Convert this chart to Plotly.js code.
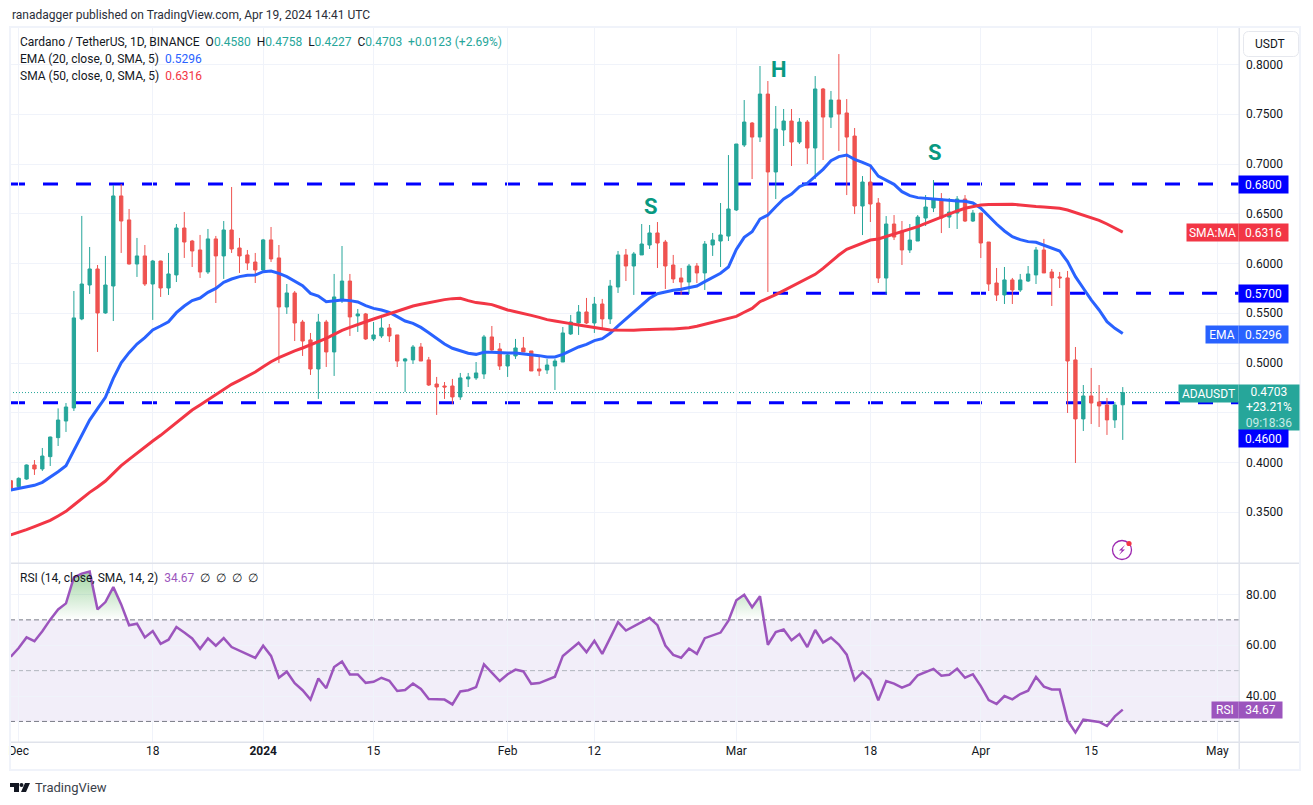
<!DOCTYPE html>
<html>
<head>
<meta charset="utf-8">
<script src="https://cdn.plot.ly/plotly-3.0.1.min.js"></script>
<style>
  html, body { margin: 0; padding: 0; background: #fff; }
  #wrap { position: relative; width: 1313px; height: 805px; overflow: hidden; }
  #plotlyDiv { width: 1313px; height: 805px; }
  svg.overlay { position: absolute; left: 0; top: 0; pointer-events: none; }
</style>
</head>
<body>
<div id="wrap">
  <div id="plotlyDiv"></div>
  <svg class="overlay" width="1313" height="805">
    <path d="M10 783h9v9h-5v-5h-4z M25 783h5l-4 9h-5z" fill="#131722"/>
    <circle cx="21.5" cy="785" r="2" fill="#131722"/>
    <circle cx="1122" cy="550" r="9.5" fill="none" stroke="#9c27b0" stroke-width="1.3"/>
    <path d="M1125 545l-6 5.5h3l-3 4.5 6-5.5h-3z" fill="#9c27b0"/>
    <circle cx="1129" cy="543.5" r="2.6" fill="#f23645"/>
    <rect x="1243.5" y="31.5" width="55" height="25" rx="5" fill="none" stroke="#e6e8ee"/>
  </svg>
</div>
<script>
// candles, one per day from 2023-11-30 to 2024-04-19
const opens = [
  0.3817,0.3757,0.3834,0.3975,0.3935,0.4059,0.4250,0.4417,0.4548,0.5443,0.5784,0.5945,0.5503,0.5774,0.6679,0.6438,0.5995,0.6076,0.5794,0.6025,
  0.5754,0.5885,0.6357,0.6226,0.6136,0.5915,0.6247,0.6076,0.6337,0.6156,0.6086,0.6015,0.5935,0.6237,0.6056,0.5563,0.5704,0.5412,0.5232,0.4940,
  0.5412,0.5111,0.5644,0.5824,0.5473,0.5493,0.5242,0.5272,0.5352,0.5282,0.5020,0.5031,0.5161,0.5031,0.4789,0.4769,0.4769,0.4659,0.4840,0.4850,
  0.4890,0.5262,0.5141,0.4970,0.5071,0.5151,0.5121,0.4940,0.4930,0.4970,0.5010,0.5292,0.5402,0.5513,0.5402,0.5593,0.5443,0.5764,0.6086,0.5975,
  0.6086,0.6186,0.6307,0.6216,0.5985,0.5855,0.5814,0.5975,0.5905,0.6186,0.6226,0.6276,0.6538,0.7191,0.7412,0.7271,0.7703,0.6920,0.7342,0.7432,
  0.7221,0.7422,0.7161,0.7754,0.7472,0.7643,0.7513,0.7281,0.6578,0.6819,0.6608,0.5854,0.6397,0.6327,0.6136,0.6226,0.6457,0.6558,0.6648,0.6467,
  0.6507,0.6648,0.6427,0.6507,0.6216,0.5804,0.5684,0.5835,0.5734,0.5824,0.5885,0.6136,0.5915,0.5865,0.5855,0.5031,0.4438,0.4669,0.4608,0.4578,
  0.4428,0.4580]
const highs = [
  0.3825,0.3851,0.3980,0.4025,0.4146,0.4260,0.4544,0.4598,0.5724,0.6478,0.6166,0.5985,0.6076,0.6789,0.6799,0.6548,0.6257,0.6186,0.6036,0.6028,
  0.6106,0.6397,0.6518,0.6237,0.6287,0.6347,0.6277,0.6427,0.6769,0.6257,0.6136,0.6106,0.6247,0.6367,0.6186,0.5794,0.5724,0.5433,0.5302,0.5493,
  0.5433,0.5895,0.6176,0.5895,0.5543,0.5503,0.5412,0.5483,0.5392,0.5282,0.5051,0.5181,0.5201,0.5061,0.4860,0.4809,0.4840,0.4900,0.4900,0.5010,
  0.5282,0.5372,0.5201,0.5101,0.5242,0.5262,0.5121,0.5061,0.5041,0.5041,0.5362,0.5483,0.5583,0.5654,0.5664,0.5644,0.5835,0.6126,0.6146,0.6116,
  0.6397,0.6387,0.6417,0.6237,0.6086,0.5955,0.5995,0.6005,0.6226,0.6307,0.6608,0.7090,0.7201,0.7643,0.7422,0.7985,0.7834,0.7583,0.7553,0.7553,
  0.7462,0.7442,0.7884,0.7764,0.7734,0.8105,0.7653,0.7362,0.6879,0.6990,0.6658,0.6477,0.6487,0.6427,0.6397,0.6487,0.6688,0.6839,0.6708,0.6658,
  0.6678,0.6688,0.6538,0.6507,0.6216,0.5955,0.5965,0.5855,0.5895,0.5975,0.6166,0.6247,0.5945,0.5915,0.5925,0.5161,0.4779,0.4950,0.4779,0.4649,
  0.4608,0.4758]
const lows = [
  0.3735,0.3747,0.3827,0.3875,0.3915,0.3965,0.4166,0.4307,0.4518,0.5430,0.5694,0.5111,0.5495,0.5422,0.6106,0.5990,0.5865,0.5774,0.5433,0.5664,
  0.5684,0.5814,0.6056,0.5965,0.5855,0.5895,0.5603,0.5845,0.6106,0.5905,0.5935,0.5804,0.5905,0.6015,0.5000,0.5493,0.5221,0.5071,0.4880,0.4639,
  0.4960,0.4870,0.5603,0.5272,0.5312,0.5232,0.5221,0.5252,0.5211,0.4960,0.4709,0.4990,0.5020,0.4769,0.4478,0.4639,0.4588,0.4629,0.4759,0.4830,
  0.4840,0.5111,0.4930,0.4860,0.5041,0.5111,0.4920,0.4870,0.4890,0.4729,0.5010,0.5282,0.5282,0.5392,0.5302,0.5352,0.5392,0.5704,0.5824,0.5684,
  0.6086,0.6146,0.5955,0.5744,0.5804,0.5684,0.5694,0.5804,0.5734,0.6076,0.5965,0.6226,0.6528,0.7171,0.6849,0.7221,0.5714,0.6648,0.7181,0.6980,
  0.7201,0.7000,0.6849,0.7040,0.7362,0.7131,0.6688,0.6497,0.6286,0.6417,0.5804,0.5693,0.6236,0.5985,0.6106,0.6226,0.6377,0.6517,0.6306,0.6357,
  0.6347,0.6417,0.6417,0.6055,0.5724,0.5623,0.5593,0.5593,0.5714,0.5814,0.5794,0.5905,0.5573,0.5754,0.4498,0.3995,0.4317,0.4387,0.4357,0.4277,
  0.4347,0.4227]
const closes = [
  0.3740,0.3841,0.3975,0.3935,0.4065,0.4256,0.4427,0.4558,0.5453,0.5794,0.5945,0.5503,0.5784,0.6679,0.6427,0.5995,0.6076,0.5794,0.6025,0.5754,
  0.5895,0.6357,0.6216,0.6126,0.5915,0.6247,0.6076,0.6337,0.6146,0.6076,0.6005,0.5935,0.6237,0.6046,0.5563,0.5704,0.5402,0.5221,0.4940,0.5412,
  0.5111,0.5664,0.5824,0.5463,0.5493,0.5242,0.5282,0.5352,0.5272,0.5020,0.5041,0.5161,0.5020,0.4779,0.4759,0.4759,0.4659,0.4850,0.4860,0.4900,
  0.5262,0.5131,0.4970,0.5081,0.5151,0.5111,0.4920,0.4920,0.4980,0.5020,0.5302,0.5412,0.5513,0.5402,0.5593,0.5443,0.5774,0.6086,0.5975,0.6096,
  0.6196,0.6307,0.6206,0.5975,0.5845,0.5814,0.5975,0.5905,0.6196,0.6237,0.6287,0.6548,0.7201,0.7422,0.7271,0.7703,0.6920,0.7352,0.7432,0.7221,
  0.7422,0.7161,0.7754,0.7472,0.7643,0.7502,0.7271,0.6578,0.6819,0.6598,0.5854,0.6397,0.6266,0.6136,0.6236,0.6467,0.6568,0.6648,0.6457,0.6517,
  0.6648,0.6427,0.6507,0.6206,0.5794,0.5683,0.5835,0.5734,0.5835,0.5895,0.6136,0.5905,0.5855,0.5855,0.5020,0.4438,0.4669,0.4598,0.4568,0.4428,
  0.4578,0.4703]
const ema20 = [
  0.3724,0.3741,0.3757,0.3771,0.3801,0.3851,0.3908,0.3968,0.4116,0.4270,0.4427,0.4541,0.4655,0.4846,0.5003,0.5104,0.5191,0.5255,0.5332,0.5372,
  0.5415,0.5506,0.5573,0.5627,0.5653,0.5710,0.5750,0.5811,0.5844,0.5868,0.5881,0.5884,0.5918,0.5925,0.5901,0.5868,0.5824,0.5777,0.5700,0.5673,
  0.5616,0.5623,0.5633,0.5627,0.5613,0.5576,0.5549,0.5533,0.5509,0.5466,0.5422,0.5399,0.5358,0.5305,0.5248,0.5191,0.5148,0.5121,0.5098,0.5087,
  0.5108,0.5108,0.5101,0.5101,0.5101,0.5094,0.5084,0.5074,0.5061,0.5061,0.5087,0.5128,0.5161,0.5188,0.5225,0.5245,0.5299,0.5372,0.5443,0.5513,
  0.5583,0.5650,0.5697,0.5717,0.5731,0.5741,0.5761,0.5774,0.5818,0.5861,0.5902,0.5965,0.6142,0.6263,0.6320,0.6447,0.6487,0.6571,0.6648,0.6698,
  0.6772,0.6806,0.6879,0.6946,0.7033,0.7074,0.7090,0.7047,0.7017,0.6983,0.6879,0.6839,0.6796,0.6722,0.6682,0.6662,0.6655,0.6645,0.6635,0.6628,
  0.6628,0.6625,0.6608,0.6555,0.6471,0.6397,0.6327,0.6270,0.6240,0.6220,0.6213,0.6186,0.6153,0.6126,0.6019,0.5868,0.5751,0.5634,0.5533,0.5416,
  0.5349,0.5296]
const sma50 = [
  0.3272,0.3295,0.3325,0.3355,0.3385,0.3419,0.3463,0.3509,0.3573,0.3637,0.3700,0.3754,0.3814,0.3891,0.3968,0.4032,0.4096,0.4159,0.4216,0.4273,
  0.4337,0.4404,0.4467,0.4528,0.4578,0.4632,0.4682,0.4739,0.4786,0.4826,0.4866,0.4910,0.4963,0.5013,0.5054,0.5090,0.5121,0.5151,0.5181,0.5211,
  0.5248,0.5288,0.5328,0.5358,0.5389,0.5415,0.5442,0.5469,0.5499,0.5523,0.5549,0.5573,0.5590,0.5607,0.5623,0.5637,0.5647,0.5650,0.5627,0.5607,
  0.5597,0.5587,0.5560,0.5533,0.5516,0.5500,0.5479,0.5459,0.5436,0.5422,0.5406,0.5396,0.5382,0.5372,0.5362,0.5345,0.5332,0.5329,0.5325,0.5329,
  0.5335,0.5339,0.5339,0.5342,0.5342,0.5345,0.5355,0.5369,0.5389,0.5406,0.5422,0.5443,0.5469,0.5510,0.5549,0.5616,0.5650,0.5687,0.5727,0.5767,
  0.5807,0.5847,0.5891,0.5951,0.6018,0.6085,0.6142,0.6176,0.6209,0.6236,0.6246,0.6270,0.6296,0.6320,0.6343,0.6370,0.6404,0.6437,0.6464,0.6497,
  0.6528,0.6555,0.6571,0.6588,0.6592,0.6595,0.6598,0.6595,0.6588,0.6578,0.6572,0.6568,0.6561,0.6555,0.6538,0.6511,0.6484,0.6461,0.6434,0.6397,
  0.6357,0.6316]
const rsi = [
  55.5,58.9,63.1,61.6,65.5,70.1,74.1,76.5,86.7,88.2,89.0,74.1,77.0,82.9,76.1,67.9,68.5,63.1,65.6,60.6,
  62.2,67.2,65.0,62.7,58.6,62.7,59.8,62.8,59.3,57.9,56.5,55.0,59.8,55.8,47.2,49.6,45.1,42.3,38.6,46.9,
  43.1,51.4,53.6,48.5,48.5,45.2,45.6,47.2,46.0,42.0,42.4,44.9,42.8,38.8,38.7,38.6,36.7,41.8,42.3,43.5,
  52.5,49.3,45.9,48.6,50.4,49.7,44.8,45.1,46.4,47.6,55.8,58.5,61.0,57.3,61.8,56.6,62.8,69.1,65.8,67.5,
  69.2,70.8,67.9,59.9,56.2,55.1,58.7,56.6,62.8,63.9,65.0,69.7,77.7,79.9,75.0,79.3,60.2,65.2,66.2,62.0,
  64.4,59.3,66.0,61.1,63.0,60.3,56.3,46.3,49.4,46.5,38.3,45.9,44.9,43.3,44.6,48.2,49.6,50.7,48.0,48.4,
  50.8,47.2,48.6,43.9,38.4,36.9,40.0,38.7,40.8,42.1,47.5,43.7,42.6,42.6,30.4,25.7,30.7,30.1,29.8,28.2,
  32.0,34.67]

const priceTicks = [0.80, 0.75, 0.70, 0.65, 0.60, 0.55, 0.50, 0.45, 0.40, 0.35]
const priceTickText = ['0.8000', '0.7500', '0.7000', '0.6500', '0.6000', '0.5500', '0.5000', '', '0.4000', '0.3500']
const rsiTicks = [80, 60, 40]
const rsiTickText = ['80.00', '60.00', '40.00']
const timeTicks = ['2023-12-01', '2023-12-18', '2024-01-01', '2024-01-15', '2024-02-01', '2024-02-12', '2024-03-01', '2024-03-18', '2024-04-01', '2024-04-15', '2024-05-01']
const timeTickText = ['Dec', '18', '<b>2024</b>', '15', 'Feb', '12', 'Mar', '18', 'Apr', '15', 'May']

const fontName = 'Roboto, sans-serif'
const teal = '#26a69a'
const red = '#ef5350'
const ink = '#131722'
const lineBlue = '#0000ff'

const days = opens.map((_, i) => new Date(Date.UTC(2023, 10, 30 + i)).toISOString().slice(0, 10))

// pixel position in the page -> paper fraction
const paperX = x => (x - 10) / 1229
const paperY = y => (742 - y) / 715

function tag(text, x0, x1, y0, y1, bg) {
  return {
    text: text, xref: 'paper', yref: 'paper', showarrow: false,
    x: paperX((x0 + x1) / 2), y: paperY((y0 + y1) / 2),
    xanchor: 'center', yanchor: 'middle',
    width: x1 - x0, height: y1 - y0, bgcolor: bg, borderpad: 0,
    font: { family: fontName, size: 12, color: '#ffffff' }
  }
}
function label(text, x, y, size, color) {
  return {
    text: text, xref: 'paper', yref: 'paper', showarrow: false,
    x: paperX(x), y: paperY(y), xanchor: 'left', yanchor: 'middle', align: 'left',
    font: { family: fontName, size: size, color: color || ink }
  }
}
function pattern(text, day, price) {
  return {
    text: '<b>' + text + '</b>', x: day, y: price, xref: 'x', yref: 'y', showarrow: false,
    font: { family: fontName, size: 22, color: '#089981' }
  }
}
const span = (text, color) => '<span style="color:' + color + '">' + text + '</span>'

function level(price, x0, color, dash, width) {
  return { type: 'line', layer: 'below', xref: 'x', yref: 'y', x0: x0, x1: '2024-05-03 17:46', y0: price, y1: price,
    line: { color: color, width: width, dash: dash } }
}
function rsiLevel(value, color) {
  return { type: 'line', layer: 'below', xref: 'paper', yref: 'y2', x0: 0, x1: 1, y0: value, y1: value,
    line: { color: color, width: 1, dash: '5px,3px' } }
}
function frame(x0, y0, x1, y1, color) {
  return { type: 'rect', layer: 'above', xref: 'paper', yref: 'paper',
    x0: paperX(x0), x1: paperX(x1), y0: paperY(y0), y1: paperY(y1),
    fillcolor: color, line: { width: 0 } }
}

const candles = {
  type: 'candlestick', x: days, open: opens, high: highs, low: lows, close: closes,
  xaxis: 'x', yaxis: 'y', hoverinfo: 'skip', whiskerwidth: 0,
  increasing: { line: { color: teal, width: 1 }, fillcolor: teal },
  decreasing: { line: { color: red, width: 1 }, fillcolor: red }
}
const emaLine = { type: 'scatter', mode: 'lines', x: days, y: ema20, xaxis: 'x', yaxis: 'y', hoverinfo: 'skip',
  line: { color: '#2962ff', width: 3 } }
const smaLine = { type: 'scatter', mode: 'lines', x: days, y: sma50, xaxis: 'x', yaxis: 'y', hoverinfo: 'skip',
  line: { color: '#f23645', width: 3 } }
const obBase = { type: 'scatter', mode: 'lines', x: days, y: days.map(() => 70), xaxis: 'x', yaxis: 'y2', hoverinfo: 'skip',
  line: { width: 0 } }
const obFill = { type: 'scatter', mode: 'lines', x: days, y: rsi.map(v => Math.max(v, 70)), xaxis: 'x', yaxis: 'y2', hoverinfo: 'skip',
  line: { width: 0 }, fill: 'tonexty',
  fillgradient: { type: 'vertical', start: 90, stop: 70,
    colorscale: [[0, 'rgba(76,175,80,0.55)'], [1, 'rgba(76,175,80,0)']] } }
const rsiLine = { type: 'scatter', mode: 'lines', x: days, y: rsi, xaxis: 'x', yaxis: 'y2', hoverinfo: 'skip',
  line: { color: '#9c55bd', width: 2.5 } }

const annotations = [
  label('ranadagger published on TradingView.com, Apr 19, 2024 14:41 UTC', 10, 15, 12, '#2a2e39'),
  label('Cardano / TetherUS, 1D, BINANCE  O' + span('0.4580', teal) + '  H' + span('0.4758', teal) + '  L' + span('0.4227', teal) +
    '  C' + span('0.4703', teal) + '  ' + span('+0.0123 (+2.69%)', teal), 18, 42, 12),
  label('EMA (20, close, 0, SMA, 5)  ' + span('0.5296', '#2962ff'), 18, 59, 12),
  label('SMA (50, close, 0, SMA, 5)  ' + span('0.6316', '#f23645'), 18, 76, 12),
  label('RSI (14, close, SMA, 14, 2)  ' + span('34.67', '#9c55bd') + '  ∅  ∅  ∅  ∅', 18, 578, 12),
  label('TradingView', 33, 787, 13, '#3b3f4a'),
  pattern('H', '2024-03-06 10:00', 0.7945),
  pattern('S', '2024-02-19 04:00', 0.6575),
  pattern('S', '2024-03-26 06:00', 0.7115),
  tag('0.6800', 1239, 1288, 176, 193, lineBlue),
  tag('SMA:MA', 1187, 1238, 224, 241, '#f23645'),
  tag('0.6316', 1239, 1288, 224, 241, '#f23645'),
  tag('0.5700', 1239, 1288, 285, 302, lineBlue),
  tag('EMA', 1206, 1238, 326, 343, '#2962ff'),
  tag('0.5296', 1239, 1288, 326, 343, '#2962ff'),
  tag('ADAUSDT', 1179, 1238, 385, 402, teal),
  tag('0.4703<br>+23.21%<br>' + span('09:18:36', '#c6ebe7'), 1239, 1299, 385, 430, teal),
  tag('0.4600', 1239, 1288, 430, 447, lineBlue),
  tag('RSI', 1212, 1238, 702, 718, '#9c55bd'),
  tag('34.67', 1239, 1282, 702, 718, '#9c55bd'),
  label('USDT', 1253, 44, 12)
]

const shapes = [
  { type: 'rect', layer: 'below', xref: 'paper', yref: 'y2', x0: 0, x1: 1, y0: 30, y1: 70,
    fillcolor: 'rgba(126,87,194,0.1)', line: { width: 0 } },
  rsiLevel(70, '#787b86'), rsiLevel(50, '#b2b5be'), rsiLevel(30, '#787b86'),
  level(0.68, '2023-11-29 21:36', lineBlue, '15px,18px', 3),
  level(0.57, '2024-02-17 22:00', lineBlue, '15px,18px', 3),
  level(0.46, '2023-11-29 21:36', lineBlue, '15px,18px', 3),
  level(0.4703, '2023-11-29 21:36', teal, '1px,2px', 1),
  frame(9, 26, 1301, 28, '#f0f3fa'), frame(9, 26, 11, 771, '#f0f3fa'),
  frame(9, 769, 1301, 771, '#f0f3fa'), frame(1299, 26, 1301, 771, '#f0f3fa'),
  frame(11, 562.5, 1299, 564, '#e0e3eb'), frame(11, 741.5, 1299, 743, '#e0e3eb'),
  frame(1238.5, 28, 1240, 769, '#e0e3eb')
]

const layout = {
  width: 1313, height: 805,
  margin: { l: 10, r: 74, t: 27, b: 63 },
  paper_bgcolor: '#ffffff', plot_bgcolor: '#ffffff',
  showlegend: false, boxgap: 0.4,
  font: { family: fontName, size: 12, color: ink },
  xaxis: {
    type: 'date', range: ['2023-11-29 21:36', '2024-05-03 17:46'], anchor: 'y2',
    rangeslider: { visible: false }, tickmode: 'array', tickvals: timeTicks, ticktext: timeTickText,
    showgrid: true, gridcolor: '#f0f3fa', gridwidth: 1, zeroline: false, showline: false, ticks: '',
    tickangle: 0, tickfont: { family: fontName, size: 12, color: ink }
  },
  yaxis: {
    domain: [179 / 715, 1], range: [0.2990, 0.8377], side: 'right', anchor: 'x',
    tickmode: 'array', tickvals: priceTicks, ticktext: priceTickText,
    showgrid: true, gridcolor: '#f0f3fa', gridwidth: 1, zeroline: false, showline: false, ticks: '',
    ticklabelstandoff: 6, tickfont: { family: fontName, size: 12, color: ink }
  },
  yaxis2: {
    domain: [0, 179 / 715], range: [21.9, 92.4], side: 'right', anchor: 'x',
    tickmode: 'array', tickvals: rsiTicks, ticktext: rsiTickText,
    showgrid: true, gridcolor: '#f0f3fa', gridwidth: 1, zeroline: false, showline: false, ticks: '',
    ticklabelstandoff: 6, tickfont: { family: fontName, size: 12, color: ink }
  },
  shapes: shapes,
  annotations: annotations
}

Plotly.newPlot('plotlyDiv', [candles, emaLine, smaLine, obBase, obFill, rsiLine], layout, { staticPlot: true, displayModeBar: false })
</script>
</body>
</html>
